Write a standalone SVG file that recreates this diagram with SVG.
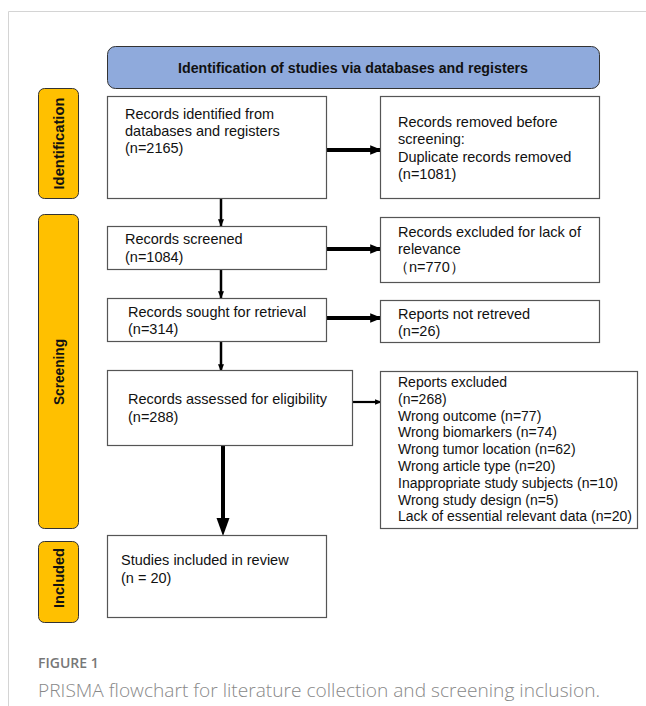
<svg xmlns="http://www.w3.org/2000/svg" width="646" height="706" viewBox="0 0 646 706">
<defs>
<style>
.box{fill:#fff;stroke:#555;stroke-width:1.2}
.side{fill:#FFC000;stroke:#333;stroke-width:1}
.t{font-family:"Liberation Sans",Arial,sans-serif;font-size:14.5px;fill:#111}
.t2{font-family:"Liberation Sans",Arial,sans-serif;font-size:14px;fill:#111}
.sl{font-family:"Liberation Sans",Arial,sans-serif;font-size:14px;font-weight:bold;fill:#111}
.ln{stroke:#000;fill:none}
</style>
<marker id="ah" viewBox="0 0 10 10" refX="9" refY="5" markerWidth="3" markerHeight="3" orient="auto" markerUnits="strokeWidth"><path d="M0,1 L10,5 L0,9 Z" fill="#000"/></marker>
</defs>
<rect width="646" height="706" fill="#fff"/>
<path d="M8.5,706 V11.5 H646" fill="none" stroke="#d4d4d4" stroke-width="1"/>

<g id="header">
<rect x="107.5" y="46.5" width="492" height="42" rx="8" fill="#8FAADC" stroke="#333" stroke-width="1"/>
<text x="353" y="72.5" text-anchor="middle" font-family="'Liberation Sans',Arial,sans-serif" font-size="14.5" font-weight="bold" fill="#111" textLength="350" lengthAdjust="spacingAndGlyphs">Identification of studies via databases and registers</text>
</g>

<g id="side-identification">
<rect class="side" x="38.5" y="88.5" width="40" height="110" rx="6"/>
<text class="sl" transform="translate(64,143.5) rotate(-90)" text-anchor="middle" textLength="92" lengthAdjust="spacingAndGlyphs">Identification</text>
</g>
<g id="side-screening">
<rect class="side" x="38.5" y="214.5" width="40" height="314" rx="6"/>
<text class="sl" transform="translate(64,372) rotate(-90)" text-anchor="middle" textLength="66" lengthAdjust="spacingAndGlyphs">Screening</text>
</g>
<g id="side-included">
<rect class="side" x="38.5" y="541.5" width="40" height="81" rx="6"/>
<text class="sl" transform="translate(64,578) rotate(-90)" text-anchor="middle" textLength="60" lengthAdjust="spacingAndGlyphs">Included</text>
</g>

<g id="connectors">
<line class="ln" x1="327" y1="150" x2="381" y2="150" stroke-width="4" marker-end="url(#ah)"/>
<line class="ln" x1="327" y1="249" x2="381" y2="249" stroke-width="4" marker-end="url(#ah)"/>
<line class="ln" x1="327" y1="318" x2="381" y2="318" stroke-width="4" marker-end="url(#ah)"/>
<line class="ln" x1="352" y1="402" x2="381" y2="402" stroke-width="2.2" marker-end="url(#ah)"/>
<line class="ln" x1="221" y1="199" x2="221" y2="226" stroke-width="2.5" marker-end="url(#ah)"/>
<line class="ln" x1="221" y1="269" x2="221" y2="298" stroke-width="2.5" marker-end="url(#ah)"/>
<line class="ln" x1="221" y1="341" x2="221" y2="371" stroke-width="2.5" marker-end="url(#ah)"/>
<line class="ln" x1="223" y1="445" x2="223" y2="520" stroke-width="4"/>
<path d="M216.5,518 L229.5,518 L223,536 Z" fill="#000"/>
</g>

<g id="n-identified">
<rect class="box" x="107.5" y="96.5" width="219" height="102"/>
<text class="t" x="125" y="119">Records identified from</text>
<text class="t" x="125" y="136">databases and registers</text>
<text class="t" x="125" y="153">(n=2165)</text>
</g>
<g id="n-removed">
<rect class="box" x="380.5" y="96.5" width="219" height="102"/>
<text class="t" x="398" y="127">Records removed before</text>
<text class="t" x="398" y="144">screening:</text>
<text class="t" x="398" y="161.5">Duplicate records removed</text>
<text class="t" x="398" y="179">(n=1081)</text>
</g>
<g id="n-screened">
<rect class="box" x="107.5" y="226.5" width="219" height="43"/>
<text class="t" x="125" y="244">Records screened</text>
<text class="t" x="125" y="261.5">(n=1084)</text>
</g>
<g id="n-excluded-relevance">
<rect class="box" x="380.5" y="217.5" width="219" height="65"/>
<text class="t" x="398" y="237">Records excluded for lack of</text>
<text class="t" x="398" y="254">relevance</text>
<text class="t" x="394" y="271.5">（n=770）</text>
</g>
<g id="n-sought">
<rect class="box" x="107.5" y="298.5" width="219" height="43"/>
<text class="t" x="128" y="316.5">Records sought for retrieval</text>
<text class="t" x="128" y="334">(n=314)</text>
</g>
<g id="n-not-retrieved">
<rect class="box" x="380.5" y="300.5" width="219" height="42"/>
<text class="t" x="398" y="318.5">Reports not retreved</text>
<text class="t" x="398" y="336">(n=26)</text>
</g>
<g id="n-assessed">
<rect class="box" x="107.5" y="370.5" width="245" height="75"/>
<text class="t" x="128" y="404">Records assessed for eligibility</text>
<text class="t" x="128" y="421.5">(n=288)</text>
</g>
<g id="n-reports-excluded">
<rect class="box" x="380.5" y="371.5" width="257" height="157"/>
<text class="t2" x="398" y="387">Reports excluded</text>
<text class="t2" x="398" y="403.8">(n=268)</text>
<text class="t2" x="398" y="420.6">Wrong outcome (n=77)</text>
<text class="t2" x="398" y="437.4">Wrong biomarkers (n=74)</text>
<text class="t2" x="398" y="454.2">Wrong tumor location (n=62)</text>
<text class="t2" x="398" y="471">Wrong article type (n=20)</text>
<text class="t2" x="398" y="487.8">Inappropriate study subjects (n=10)</text>
<text class="t2" x="398" y="504.6">Wrong study design (n=5)</text>
<text class="t2" x="398" y="521.4">Lack of essential relevant data (n=20)</text>
</g>
<g id="n-included">
<rect class="box" x="107.5" y="535.5" width="219" height="82"/>
<text class="t" x="121" y="565">Studies included in review</text>
<text class="t" x="121" y="583">(n = 20)</text>
</g>

<g id="caption">
<text x="38" y="668" font-family="'Open Sans','Noto Sans',sans-serif" font-size="14" font-weight="600" fill="#777">FIGURE 1</text>
<text x="38" y="697" font-family="'Open Sans','Noto Sans',sans-serif" font-size="19" font-weight="300" fill="#888" textLength="562" lengthAdjust="spacingAndGlyphs">PRISMA flowchart for literature collection and screening inclusion.</text>
</g>
</svg>
